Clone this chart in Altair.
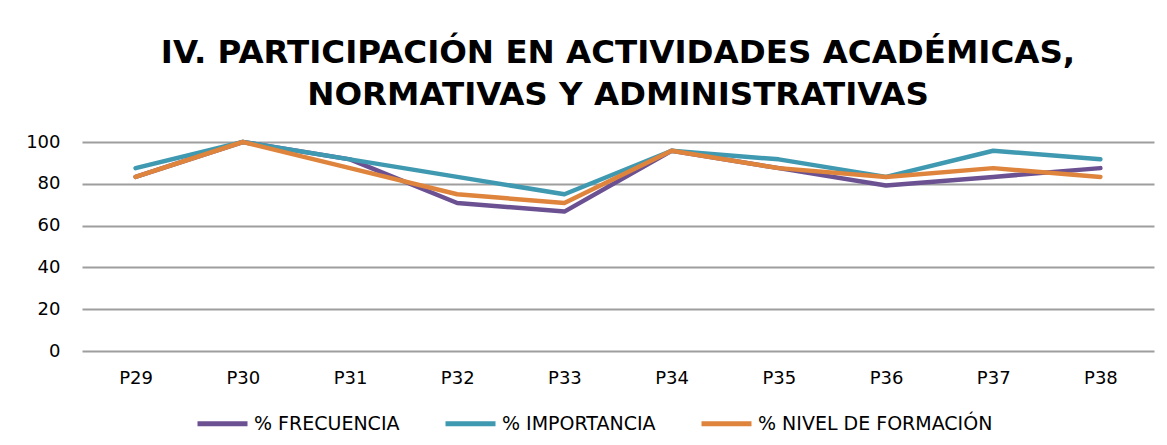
import altair as alt
import pandas as pd

preguntas = ["P29", "P30", "P31", "P32", "P33", "P34", "P35", "P36", "P37", "P38"]
frecuencia = [83.3, 100, 91.7, 70.8, 66.7, 95.8, 87.5, 79.2, 83.3, 87.5]
importancia = [87.5, 100, 91.7, 83.3, 75.0, 95.8, 91.7, 83.3, 95.8, 91.7]
nivel_formacion = [83.3, 100, 87.5, 75.0, 70.8, 95.8, 87.5, 83.3, 87.5, 83.3]

series = ["% FRECUENCIA", "% IMPORTANCIA", "% NIVEL DE FORMACIÓN"]
colores = ["#6C5192", "#3F99B0", "#DF843C"]

rows = []
for name, vals in zip(series, [frecuencia, importancia, nivel_formacion]):
    for p, v in zip(preguntas, vals):
        rows.append({"pregunta": p, "valor": v, "serie": name})
df = pd.DataFrame(rows)

chart = alt.Chart(df).mark_line(strokeWidth=4.5, strokeCap="round", strokeJoin="round").encode(
    x=alt.X("pregunta:N", sort=preguntas, title=None,
            axis=alt.Axis(labelAngle=0, ticks=False, domain=False, grid=False,
                          labelPadding=18, labelFontSize=18, labelFont="DejaVu Sans",
                          labelColor="#000000")),
    y=alt.Y("valor:Q", title=None,
            scale=alt.Scale(domain=[0, 100], nice=False, zero=True),
            axis=alt.Axis(values=[0, 20, 40, 60, 80, 100], ticks=False, domain=False,
                          labelPadding=22, labelFontSize=18, labelFont="DejaVu Sans",
                          labelColor="#000000", gridColor="#9E9E9E", gridWidth=2)),
    color=alt.Color("serie:N", scale=alt.Scale(domain=series, range=colores), title=None,
                    legend=alt.Legend(orient="none", legendX=113, legendY=254,
                                      direction="horizontal", symbolType="stroke",
                                      symbolSize=2500, symbolStrokeWidth=5,
                                      labelFontSize=19, labelFont="DejaVu Sans",
                                      labelColor="#000000", columnPadding=35,
                                      labelOffset=4, padding=0, labelLimit=400)),
).properties(
    width=1072,
    height=209,
    title=alt.TitleParams(
        text=["IV. PARTICIPACIÓN EN ACTIVIDADES ACADÉMICAS,", "NORMATIVAS Y ADMINISTRATIVAS"],
        font="DejaVu Sans", fontSize=32.5, fontWeight="bold", color="#000000",
        anchor="middle", lineHeight=42, offset=22,
    ),
    autosize=alt.AutoSizeParams(type="none"),
    padding={"left": 74, "top": 134, "right": 5, "bottom": 90},
).configure_view(stroke=None)

chart.save("out.html", embed_options={"renderer": "svg", "actions": False})
